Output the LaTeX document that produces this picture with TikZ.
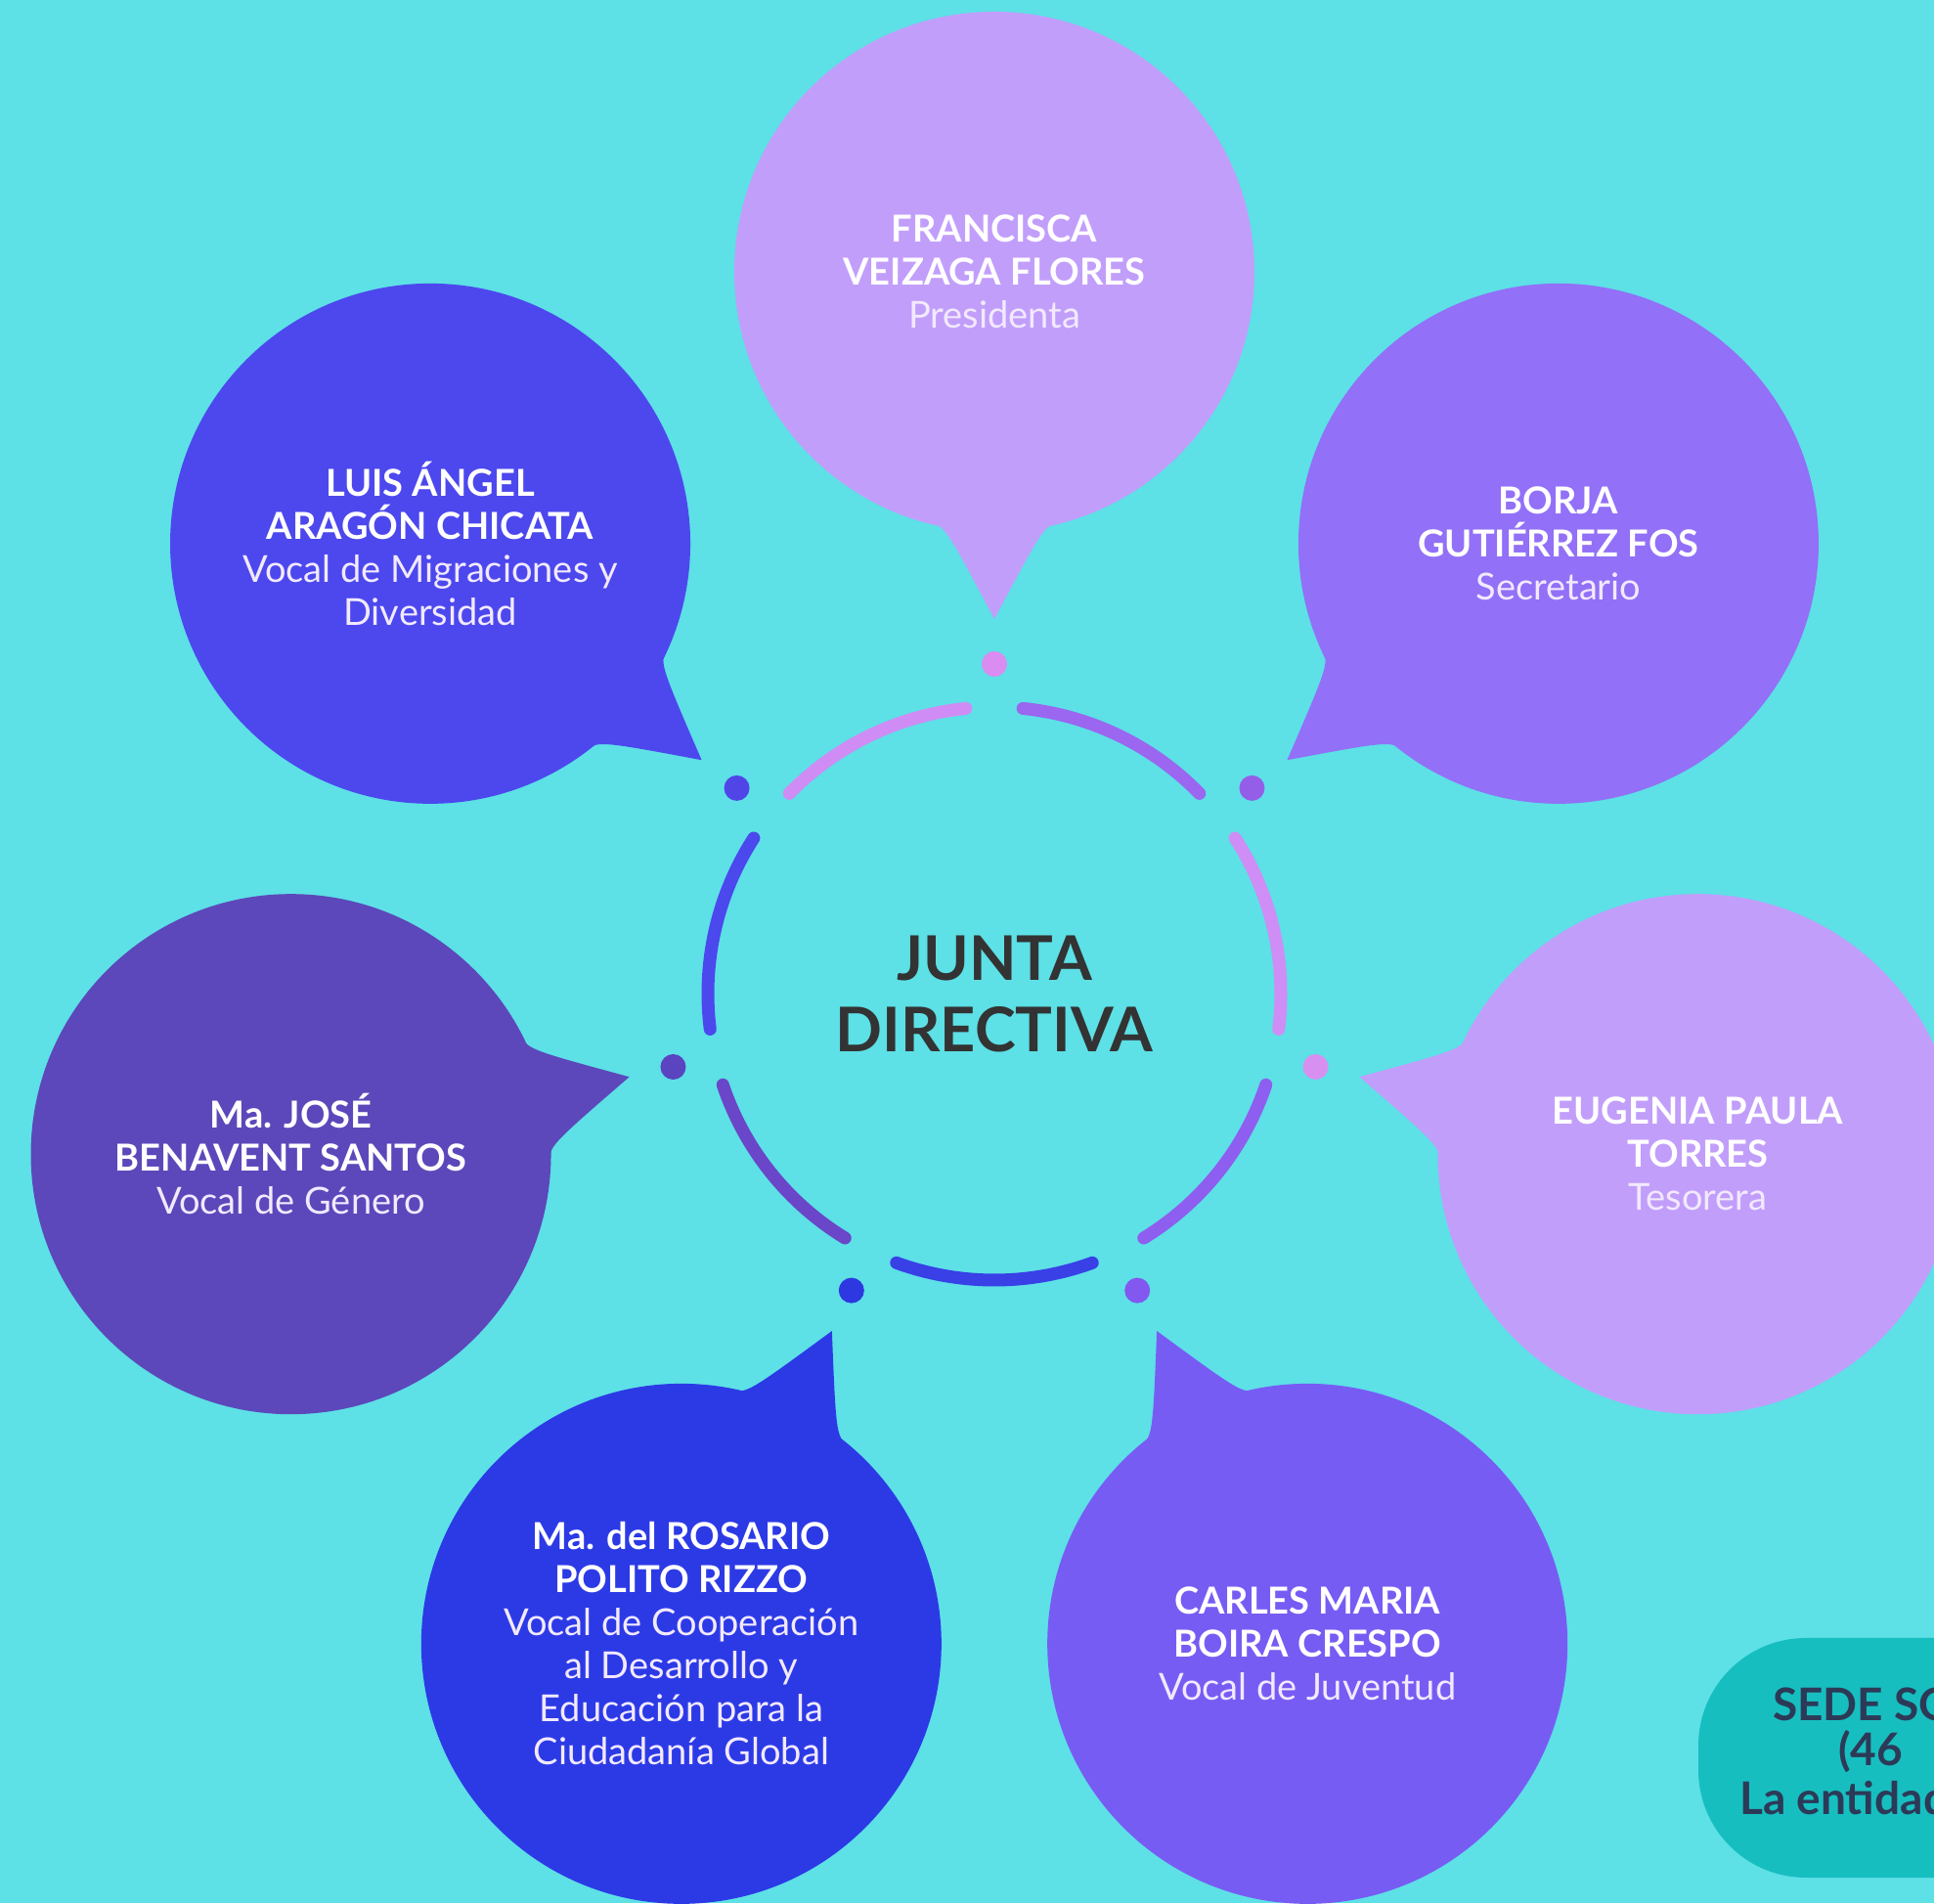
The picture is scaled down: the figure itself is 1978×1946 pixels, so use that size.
\documentclass[tikz,border=0pt]{standalone}
\usepackage{fontspec}
\setmainfont{Lato}
\usetikzlibrary{calc}
\definecolor{bg}{HTML}{5DE0E6}
\definecolor{cfra}{HTML}{C29EFB}
\definecolor{cluis}{HTML}{4C48EE}
\definecolor{cjose}{HTML}{5C48BA}
\definecolor{cros}{HTML}{2C3AE6}
\definecolor{ccar}{HTML}{775CF4}
\definecolor{ceug}{HTML}{C29EFB}
\definecolor{cbor}{HTML}{9270F7}
\definecolor{arc0}{HTML}{D08CF5}
\definecolor{arc1}{HTML}{4B48EE}
\definecolor{arc2}{HTML}{6A46C8}
\definecolor{arc3}{HTML}{3840E6}
\definecolor{arc4}{HTML}{8E5EF0}
\definecolor{arc5}{HTML}{CE8EF5}
\definecolor{arc6}{HTML}{9B66F0}
\definecolor{dot0}{HTML}{DA8CF0}
\definecolor{dot1}{HTML}{5046E8}
\definecolor{dot2}{HTML}{5A44C0}
\definecolor{dot3}{HTML}{2E38E0}
\definecolor{dot4}{HTML}{8258F0}
\definecolor{dot5}{HTML}{D890F0}
\definecolor{dot6}{HTML}{955EE8}
\definecolor{jdtext}{HTML}{333333}
\definecolor{sede}{HTML}{17BEC0}
\definecolor{sedetext}{HTML}{2C3A57}
\definecolor{namec}{HTML}{FFFFFF}
\definecolor{rolec}{HTML}{F2E9FF}
\newcommand\mkbubble[4]{%
  \coordinate (#1c) at ($(C)+(#2:738pt)$);
  \coordinate (#1t) at ($(C)+(#2:383pt)$);
  \fill[#3] ($(#1c)+(#2+165:266pt)$) .. controls ($(#1t)+(#2+28:110pt)$) .. (#1t)
     .. controls ($(#1t)+(#2-28:110pt)$) .. ($(#1c)+(#2-165:266pt)$) -- cycle;
  \node[bubblenode, fill=#3] (#1) at (#1c) {#4};
}
\newcommand\nm[1]{\textcolor{namec}{\bfseries #1}}
\newcommand\rl[1]{\textcolor{rolec}{#1}}
\begin{document}
\begin{tikzpicture}[x=1pt,y=1pt,
  bubblenode/.style={circle, minimum size=532pt, inner sep=0pt, align=center,
    font=\fontsize{38}{44}\selectfont},
  ringarc/.style={line width=13pt, line cap=round},
  sedeline/.style={anchor=west, inner sep=0pt, text=sedetext,
    font=\fontsize{46}{50}\selectfont\bfseries}]
\useasboundingbox (0,0) rectangle (1978,1946);
\clip (0,0) rectangle (1978,1946);
\fill[bg] (0,0) rectangle (1978,1946);
\coordinate (C) at (1017,930);

\mkbubble{fra}{90}{cfra}{\nm{FRANCISCA}\\\nm{VEIZAGA FLORES}\\\rl{Presidenta}}
\mkbubble{luis}{141.4286}{cluis}{\nm{LUIS ÁNGEL}\\\nm{ARAGÓN CHICATA}\\\rl{Vocal de Migraciones y}\\\rl{Diversidad}}
\mkbubble{jose}{192.8571}{cjose}{\nm{Ma. JOSÉ}\\\nm{BENAVENT SANTOS}\\\rl{Vocal de Género}}
\mkbubble{ros}{244.2857}{cros}{\nm{Ma. del ROSARIO}\\\nm{POLITO RIZZO}\\\rl{Vocal de Cooperación}\\\rl{al Desarrollo y}\\\rl{Educación para la}\\\rl{Ciudadanía Global}}
\mkbubble{car}{295.7143}{ccar}{\nm{CARLES MARIA}\\\nm{BOIRA CRESPO}\\\rl{Vocal de Juventud}}
\mkbubble{eug}{347.1429}{ceug}{\nm{EUGENIA PAULA}\\\nm{TORRES}\\\rl{Tesorera}}
\mkbubble{bor}{38.5714}{cbor}{\nm{BORJA}\\\nm{GUTIÉRREZ FOS}\\\rl{Secretario}}

\foreach \a/\dc/\ac in {90/dot0/arc0, 141.4286/dot1/arc1, 192.8571/dot2/arc2,
    244.2857/dot3/arc3, 295.7143/dot4/arc4, 347.1429/dot5/arc5, 398.5714/dot6/arc6}{
  \fill[\dc] ($(C)+(\a:337pt)$) circle (13pt);
  \pgfmathsetmacro\m{\a+25.7143}
  \pgfmathsetmacro\sa{\m-20}
  \pgfmathsetmacro\ea{\m+20}
  \draw[\ac, ringarc] ($(C)+(\sa:293pt)$) arc[start angle=\sa, end angle=\ea, radius=293pt];
}

\node[align=center, text=jdtext, font=\fontsize{63}{73}\selectfont\bfseries] (jd) at (C) {JUNTA\\DIRECTIVA};

\fill[sede, rounded corners=110pt] (1737,26) rectangle (2400,271);
\node[sedeline] (s1) at (1813,203) {SEDE SO};
\node[sedeline] (s2) at (1880,155) {(46};
\node[sedeline] (s3) at (1779,107) {La entidad};
\end{tikzpicture}
\end{document}
